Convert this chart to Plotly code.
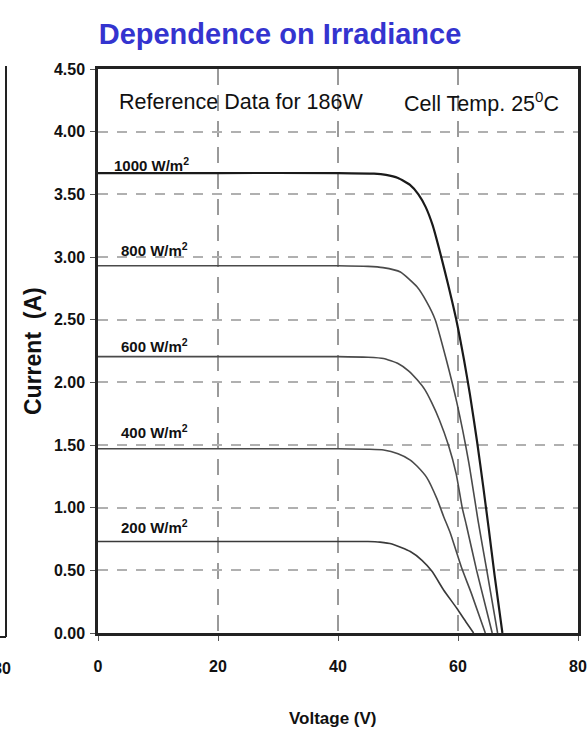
import plotly.graph_objects as go

# ---------------- data ----------------
irradiance_labels = ["1000 W/m<sup>2</sup>", "800 W/m<sup>2</sup>", "600 W/m<sup>2</sup>",
                     "400 W/m<sup>2</sup>", "200 W/m<sup>2</sup>"]

v_1000 = [0, 20, 40, 46, 48, 50, 52, 53.4, 54.6, 55.8, 57.05, 58.3, 59.8, 61.0, 62.0, 63.2, 64.2, 65.1, 66.1, 67.4]
i_1000 = [3.67, 3.67, 3.67, 3.665, 3.655, 3.63, 3.575, 3.50, 3.40, 3.25, 3.03, 2.79, 2.48, 2.18, 1.90, 1.52, 1.17, 0.84, 0.46, 0.0]

v_800 = [0, 20, 40, 45, 47.5, 50.4, 53.2, 54.8, 56.2, 58.0, 59.8, 61.8, 63.4, 64.8, 66.6]
i_800 = [2.93, 2.93, 2.93, 2.925, 2.915, 2.88, 2.76, 2.64, 2.50, 2.19, 1.84, 1.36, 0.88, 0.50, 0.0]

v_600 = [0, 20, 40, 45, 47.6, 50, 51.8, 53.2, 54.5, 55.6, 56.9, 58.4, 59.7, 60.7, 61.4, 63.1, 65.7]
i_600 = [2.205, 2.205, 2.205, 2.2, 2.19, 2.15, 2.09, 2.02, 1.94, 1.84, 1.70, 1.50, 1.27, 1.00, 0.86, 0.50, 0.0]

v_400 = [0, 20, 40, 45, 47.6, 50, 52.05, 53.2, 54.8, 56.5, 57.6, 58.7, 60.6, 62.2, 64.55]
i_400 = [1.47, 1.47, 1.47, 1.466, 1.46, 1.43, 1.38, 1.33, 1.24, 1.07, 0.93, 0.80, 0.52, 0.32, 0.0]

v_200 = [0, 20, 40, 45, 47, 49, 52.05, 54, 55.7, 57.6, 59.8, 61.3, 62.6]
i_200 = [0.73, 0.73, 0.73, 0.73, 0.725, 0.71, 0.65, 0.58, 0.49, 0.343, 0.197, 0.09, 0.0]

x_ticks = [0, 20, 40, 60, 80]
y_ticks = [0, 0.5, 1.0, 1.5, 2.0, 2.5, 3.0, 3.5, 4.0, 4.5]

# ---------------- styles ----------------
SANS = "Liberation Sans, Arial, sans-serif"

series = [(v_1000, i_1000), (v_800, i_800), (v_600, i_600), (v_400, i_400), (v_200, i_200)]
line_colors = ["#1a1a1a", "#4a4a4a", "#4a4a4a", "#4a4a4a", "#3a3a3a"]
line_widths = [2.2, 1.6, 1.6, 1.6, 1.6]
label_x = [2.5, 3.7, 3.7, 3.7, 3.7]
label_shift = [-2, 6, 1, 7, 5]

fig = go.Figure()
for (v, i), c, w in zip(series, line_colors, line_widths):
    fig.add_trace(go.Scatter(x=v, y=i, mode="lines",
                             line=dict(color=c, width=w, shape="spline", smoothing=0.5),
                             showlegend=False, hoverinfo="skip"))

annotations = []
for lab, (v, i), lx, sh in zip(irradiance_labels, series, label_x, label_shift):
    annotations.append(dict(x=lx, y=i[0], xref="x", yref="y", text=lab, showarrow=False,
                            xanchor="left", yanchor="bottom", yshift=sh,
                            font=dict(family=SANS, size=15, color="#111", weight="bold"),
                            borderpad=0))

annotations.append(dict(x=3.2, y=4.24, xref="x", yref="y", text="Reference Data for 186W",
                        showarrow=False, xanchor="left", yanchor="middle",
                        font=dict(family=SANS, size=21.5, color="#111")))
annotations.append(dict(x=77.1, y=4.24, xref="x", yref="y", text="Cell Temp. 25<sup>0</sup>C",
                        showarrow=False, xanchor="right", yanchor="middle",
                        font=dict(family=SANS, size=21.5, color="#111")))
# axis titles
annotations.append(dict(x=(33 - 98) / 480, y=0.5, xref="paper", yref="paper",
                        text="Current  (A)", textangle=-90, showarrow=False,
                        xanchor="center", yanchor="middle",
                        font=dict(family=SANS, size=23, color="#111", weight="bold")))
annotations.append(dict(x=(333 - 98) / 480, y=-(718 - 633) / 564, xref="paper", yref="paper",
                        text="Voltage (V)", showarrow=False,
                        xanchor="center", yanchor="middle",
                        font=dict(family=SANS, size=17, color="#111", weight="bold")))
# fragment of neighbouring chart at the left edge
annotations.append(dict(x=(13 - 98) / 480, y=-(668 - 633) / 564, xref="paper", yref="paper",
                        text="80", showarrow=False, xanchor="right", yanchor="middle",
                        font=dict(family=SANS, size=16, color="#111", weight="bold")))

shapes = [
    dict(type="line", xref="paper", yref="paper", x0=(6 - 98) / 480, x1=(6 - 98) / 480,
         y0=(633 - 66) / 564, y1=-(637 - 633) / 564, line=dict(color="#222", width=2)),
    dict(type="line", xref="paper", yref="paper", x0=(0 - 98) / 480, x1=(6 - 98) / 480,
         y0=-(637 - 633) / 564, y1=-(637 - 633) / 564, line=dict(color="#222", width=2)),
]

fig.update_layout(
    width=587, height=730,
    margin=dict(l=98, r=9, t=69, b=97, autoexpand=False),
    paper_bgcolor="white", plot_bgcolor="white",
    title=dict(text="Dependence on Irradiance", x=280 / 587, xanchor="center",
               y=1 - 34 / 730, yanchor="middle", xref="container", yref="container",
               font=dict(family=SANS, size=29, color="#3434cf", weight="bold")),
    annotations=annotations, shapes=shapes,
)
fig.update_xaxes(range=[0, 80], tickvals=x_ticks, ticktext=[str(t) for t in x_ticks],
                 automargin=False,
                 showline=True, linecolor="#222", linewidth=2.5, mirror=True,
                 ticks="outside", ticklen=5, tickcolor="#555", tickwidth=1,
                 ticklabelstandoff=12,
                 tickfont=dict(family=SANS, size=16, color="#111", weight="bold"),
                 showgrid=True, gridcolor="#9a9a9a", gridwidth=1.5, griddash="16px,10px",
                 zeroline=False)
fig.update_yaxes(range=[0, 4.5], tickvals=y_ticks, ticktext=[f"{t:.2f}" for t in y_ticks],
                 automargin=False,
                 showline=True, linecolor="#222", linewidth=2.5, mirror=True,
                 ticks="outside", ticklen=5, tickcolor="#555", tickwidth=1,
                 ticklabelstandoff=2,
                 tickfont=dict(family=SANS, size=16, color="#111", weight="bold"),
                 showgrid=True, gridcolor="#b0b0b0", gridwidth=2, griddash="10px,9px",
                 zeroline=False)

fig.write_html("out.html")
